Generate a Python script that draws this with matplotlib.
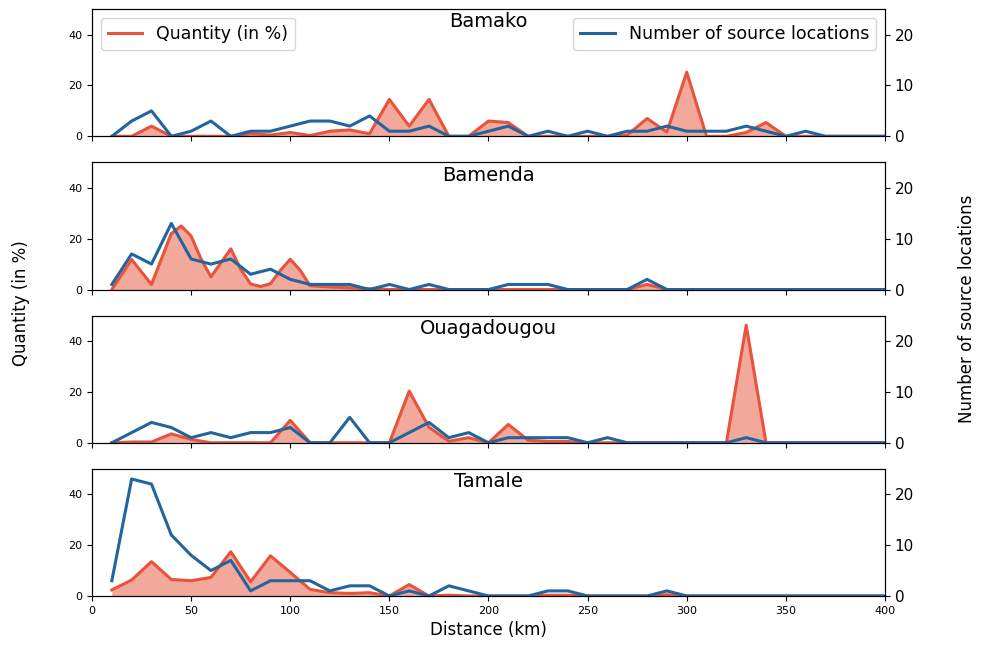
import matplotlib
matplotlib.use("Agg")
import matplotlib.pyplot as plt

dist = list(range(10, 410, 10))

# quantity (in %) per 10 km bin
bamako_q = [0, 0, 4, 0, 0, 0, 0, 1, 0.5, 1.5, 0.3, 2, 2.5, 1, 14.5, 4, 14.5, 0, 0, 6,
            5.4, 0, 0, 0, 0, 0, 0.5, 7, 1.7, 25.2, 0, 0, 1.5, 5.4, 0, 0, 0, 0, 0, 0]
ouaga_q = [0, 0.3, 0.3, 3.5, 1.3, 0, 0, 0, 0, 8.8, 0, 0, 0, 0, 0, 20.3, 6.1, 0.6, 2, 0,
           7.2, 1, 0.5, 0.5, 0, 0, 0, 0, 0, 0, 0, 0, 46.2, 0, 0, 0, 0, 0, 0, 0]
tamale_q = [2.4, 6.3, 13.5, 6.5, 6, 7.3, 17.4, 5.6, 15.8, 9.3, 2.6, 1.3, 1, 1.3, 0, 4.5, 0, 0.3, 0, 0,
            0, 0, 0.3, 0.3, 0, 0, 0, 0, 0.5, 0, 0, 0, 0, 0, 0, 0, 0, 0, 0, 0]
# Bamenda quantity has finer steps near the first peaks
bamenda_qx = [10, 20, 30, 40, 45, 50, 55, 60, 70, 75, 80, 85, 90, 95, 100, 105, 110, 120, 130, 140,
              150, 160, 170, 180, 190, 200, 210, 220, 230, 240, 250, 260, 270, 280, 290, 300,
              310, 320, 330, 340, 350, 360, 370, 380, 390, 400]
bamenda_q = [0, 11.8, 2, 22, 25, 21, 12, 5, 16, 8, 2.2, 1.2, 2.3, 7.5, 11.9, 7.6, 1.5, 1, 0.7, 0.3,
             0, 0, 0, 0, 0, 0, 0, 0, 0, 0, 0, 0, 0, 2, 0, 0,
             0, 0, 0, 0, 0, 0, 0, 0, 0, 0]

# number of source locations per 10 km bin
bamako_n = [0, 3, 5, 0, 1, 3, 0, 1, 1, 2, 3, 3, 2, 4, 1, 1, 2, 0, 0, 1,
            2, 0, 1, 0, 1, 0, 1, 1, 2, 1, 1, 1, 2, 1, 0, 1, 0, 0, 0, 0]
bamenda_n = [1, 7, 5, 13, 6, 5, 6, 3, 4, 2, 1, 1, 1, 0, 1, 0, 1, 0, 0, 0,
             1, 1, 1, 0, 0, 0, 0, 2, 0, 0, 0, 0, 0, 0, 0, 0, 0, 0, 0, 0]
ouaga_n = [0, 2, 4, 3, 1, 2, 1, 2, 2, 3, 0, 0, 5, 0, 0, 2, 4, 1, 2, 0,
           1, 1, 1, 1, 0, 1, 0, 0, 0, 0, 0, 0, 1, 0, 0, 0, 0, 0, 0, 0]
tamale_n = [3, 23, 22, 12, 8, 5, 7, 1, 3, 3, 3, 1, 2, 2, 0, 1, 0, 2, 1, 0,
            0, 0, 1, 1, 0, 0, 0, 0, 1, 0, 0, 0, 0, 0, 0, 0, 0, 0, 0, 0]

cities = ['Bamako', 'Bamenda', 'Ouagadougou', 'Tamale']
qx = [dist, bamenda_qx, dist, dist]
qty = [bamako_q, bamenda_q, ouaga_q, tamale_q]
num = [bamako_n, bamenda_n, ouaga_n, tamale_n]

red = '#e8533b'
blue = '#22649e'

fig, axes = plt.subplots(4, 1, figsize=(9.82, 6.52), dpi=100, sharex=True)
fig.subplots_adjust(left=0.0937, right=0.9012, bottom=0.0859, top=0.986, hspace=0.205)

for i in range(4):
    ax = axes[i]
    ax.fill_between(qx[i], 0, qty[i], color=red, alpha=0.5, lw=0)
    ax.plot(qx[i], qty[i], color=red, lw=2.2, label='Quantity (in %)')
    ax.set_ylim(0, 50)
    ax.set_xlim(0, 400)
    ax.set_yticks([0, 20, 40])
    ax.tick_params(axis='both', labelsize=8)
    ax.text(0.5, 0.975, cities[i], transform=ax.transAxes, ha='center', va='top', fontsize=14)

    ax2 = ax.twinx()
    ax2.plot(dist, num[i], color=blue, lw=2.2, label='Number of source locations')
    ax2.set_ylim(0, 25)
    ax2.set_yticks([0, 10, 20])
    ax2.tick_params(axis='y', labelsize=11)

    if i == 0:
        ax.legend(loc='upper left', fontsize=12.5)
        ax2.legend(loc='upper right', fontsize=12.5)

axes[3].set_xlabel('Distance (km)', fontsize=12)
fig.text(0.021, 0.535, 'Quantity (in %)', rotation=90, ha='center', va='center', fontsize=12)
fig.text(0.985, 0.527, 'Number of source locations', rotation=90, ha='center', va='center', fontsize=12)

plt.savefig('out.png', dpi=100)
